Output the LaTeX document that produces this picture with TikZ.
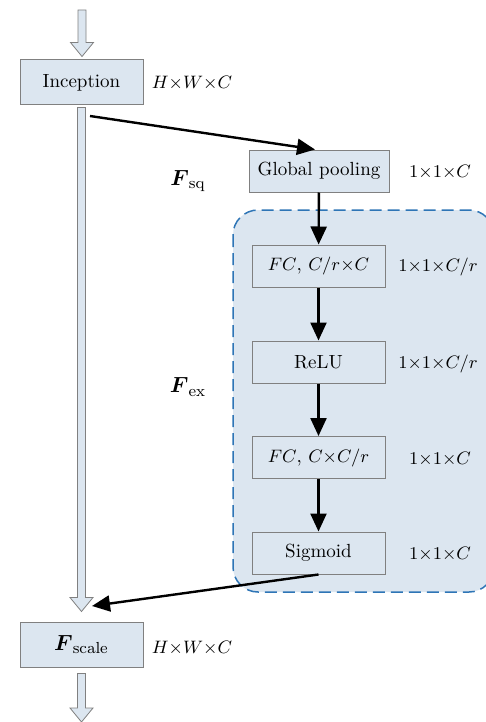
\documentclass[tikz,border=0pt]{standalone}
\usepackage{xcolor}
\usepackage{amsmath}
\usepackage{amsfonts}
\usepackage{tikz}
\usetikzlibrary{arrows.meta,calc}

\definecolor{boxfill}{RGB}{220,230,240}
\definecolor{boxline}{RGB}{128,128,128}
\definecolor{dashblue}{RGB}{46,117,182}

% hollow arrow, straight down from #1 to #2
\newcommand{\hollowarrow}[2]{%
  \draw[fatarr] let \p1=#1, \p2=#2 in
    (\x1-2pt,\y1) -- (\x1-2pt,\y2+7pt) -- (\x1-5.75pt,\y2+7pt) -- (\x1,\y2)
    -- (\x1+5.75pt,\y2+7pt) -- (\x1+2pt,\y2+7pt) -- (\x1+2pt,\y1) -- cycle;}
\newcommand{\tx}{{\times}}

\begin{document}
\begin{tikzpicture}[x=0.5pt, y=-0.5pt,
    font=\fontsize{9.5}{11}\selectfont,
    box/.style={draw=boxline, fill=boxfill, line width=0.5pt, minimum height=21pt, inner sep=0pt},
    wide/.style={box, minimum width=61.5pt, minimum height=22.5pt},
    fatarr/.style={draw=boxline, fill=boxfill, line width=0.4pt},
    flow/.style={-{Triangle[length=9pt,width=8pt]}, line width=1.2pt},
    fname/.style={draw=none, font=\fontsize{11}{13}\selectfont}]
             \useasboundingbox (0,0) rectangle (486,722);

             % excitation block
             \draw[fill=boxfill, draw=dashblue, line width=0.75pt, dash pattern=on 6pt off 3pt,
                   rounded corners=12.5pt] (233,210) rectangle (494,592);

             \node[wide] (incep) at (81.5,82.5) {Inception};
             \node[wide, font=\fontsize{11}{13}\selectfont] (fscale) at (81.5,644.5) {$\boldsymbol{F}_{\mathrm{scale}}$};

             \node[box, minimum width=70pt] (gpool) at (319,171) {Global pooling};
             \node[box, minimum width=66.5pt] (fc1) at (318.5,266) {$FC$, $C/r\tx C$};
             \node[box, minimum width=66.5pt] (relu) at (318.5,362) {ReLU};
             \node[box, minimum width=66.5pt] (fc2) at (318.5,457.5) {$FC$, $C\tx C/r$};
             \node[box, minimum width=66.5pt] (sigm) at (318.5,553) {Sigmoid};

             \node[draw=none] (dimin) at (192,83) {$H\tx W\tx C$};
             \node[draw=none] (dimout) at (192,648) {$H\tx W\tx C$};
             \node[draw=none] (dimgp) at (440,172) {$1\tx1\tx C$};
             \node[draw=none] (dimfca) at (438,267) {$1\tx1\tx C/r$};
             \node[draw=none] (dimrelu) at (438,364) {$1\tx1\tx C/r$};
             \node[draw=none] (dimfcb) at (440,459) {$1\tx1\tx C$};
             \node[draw=none] (dimsig) at (440,554) {$1\tx1\tx C$};

             \node[fname] (fsq) at (188,181) {$\boldsymbol{F}_{\mathrm{sq}}$};
             \node[fname] (fex) at (188,387) {$\boldsymbol{F}_{\mathrm{ex}}$};

             \coordinate (input) at (82,10);
             \coordinate (output) at (82,722);
             \coordinate (split) at (90,116);
             \coordinate (merge) at (92,606);

             \hollowarrow{(input)}{($(incep.north)+(0,1.5pt)$)}
             \hollowarrow{($(incep.south)+(0,-1pt)$)}{($(fscale.north)+(0,5pt)$)}
             \hollowarrow{($(fscale.south)+(0,-3pt)$)}{(output)}

             \draw[flow] (split) -- ($(gpool.north)+(-2pt,0)$);
             \draw[flow] (gpool) -- (fc1);
             \draw[flow] (fc1) -- (relu);
             \draw[flow] (relu) -- (fc2);
             \draw[flow] (fc2) -- (sigm);
             \draw[flow] (sigm.south) -- (merge);
             \end{tikzpicture}
\end{document}
